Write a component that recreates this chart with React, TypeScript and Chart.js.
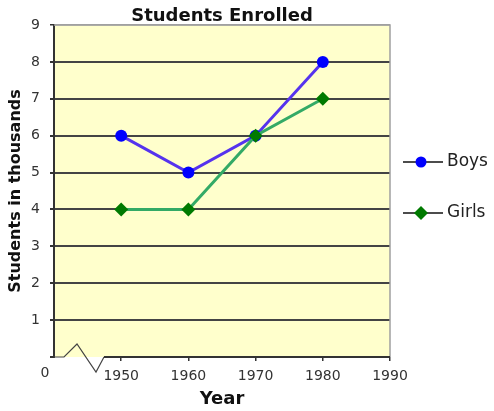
import React, { useEffect, useRef } from 'react';
import { Chart, registerables } from 'chart.js';

Chart.register(...registerables);

const years = [1950, 1960, 1970, 1980];
const boys = [6, 5, 6, 8];
const girls = [4, 4, 6, 7];
const xMin = 1940;
const xMax = 1990;
const yMin = 0;
const yMax = 9;
const originLabel = '0';
const titleText = 'Students Enrolled';
const xTitle = 'Year';
const yTitle = 'Students in thousands';

const FONT = "'DejaVu Sans', Verdana, sans-serif";
const PLOT_BG = '#FFFFCC';
const GRID = '#444444';
const AXIS = '#333333';

const bgPlugin = {
  id: 'plotBg',
  beforeDraw(chart: any) {
    const { ctx, chartArea: a } = chart;
    ctx.save();
    ctx.fillStyle = PLOT_BG;
    ctx.fillRect(a.left, a.top, a.right - a.left, a.bottom - a.top);
    ctx.restore();
  },
};

const framePlugin = {
  id: 'frame',
  afterDatasetsDraw(chart: any) {
    const { ctx, chartArea: a } = chart;
    ctx.save();
    ctx.strokeStyle = '#a0a0a0';
    ctx.lineWidth = 1.5;
    ctx.beginPath();
    ctx.moveTo(a.left, a.top);
    ctx.lineTo(a.right, a.top);
    ctx.lineTo(a.right, a.bottom);
    ctx.stroke();
    const b = a.bottom;
    const l = a.left;
    ctx.strokeStyle = '#444';
    ctx.lineWidth = 1.2;
    ctx.beginPath();
    ctx.moveTo(l, b);
    ctx.lineTo(l + 10, b);
    ctx.lineTo(l + 23, b - 13);
    ctx.lineTo(l + 42, b + 15);
    ctx.lineTo(l + 50, b);
    ctx.stroke();
    ctx.strokeStyle = AXIS;
    ctx.lineWidth = 2;
    ctx.beginPath();
    ctx.moveTo(l + 50, b);
    ctx.lineTo(a.right, b);
    ctx.stroke();
    ctx.fillStyle = '#333';
    ctx.font = `14px ${FONT}`;
    ctx.textAlign = 'center';
    ctx.textBaseline = 'middle';
    ctx.fillText(originLabel, l - 9, b + 16);
    ctx.restore();
  },
};

const legendPlugin = {
  id: 'sideLegend',
  afterDraw(chart: any) {
    const { ctx } = chart;
    const ys = [162, 213];
    ctx.save();
    chart.data.datasets.forEach((ds: any) => {
      const y = ys[ds.legendRow];
      ctx.strokeStyle = '#111';
      ctx.lineWidth = 1.5;
      ctx.beginPath();
      ctx.moveTo(403, y);
      ctx.lineTo(443, y);
      ctx.stroke();
      ctx.fillStyle = ds.pointBackgroundColor;
      ctx.beginPath();
      if (ds.pointStyle === 'rectRot') {
        const r = 7;
        ctx.moveTo(421, y - r);
        ctx.lineTo(421 + r, y);
        ctx.lineTo(421, y + r);
        ctx.lineTo(421 - r, y);
        ctx.closePath();
      } else {
        ctx.arc(421, y, 5.5, 0, Math.PI * 2);
      }
      ctx.fill();
      ctx.fillStyle = '#222';
      ctx.font = `17px ${FONT}`;
      ctx.textAlign = 'left';
      ctx.textBaseline = 'middle';
      ctx.fillText(ds.label, 447, y);
    });
    ctx.restore();
  },
};

export default function App() {
  const ref = useRef<HTMLCanvasElement | null>(null);

  useEffect(() => {
    document.body.style.margin = '0';
    const canvas = ref.current;
    if (!canvas) return;
    const chart = new Chart(canvas, {
      type: 'line',
      data: {
        datasets: [
          {
            label: 'Boys',
            legendRow: 0,
            data: years.map((x, i) => ({ x, y: boys[i] })),
            borderColor: '#5533ee',
            borderWidth: 3,
            pointStyle: 'circle',
            pointRadius: 6,
            pointBackgroundColor: '#0000ff',
            pointBorderWidth: 0,
            order: 1,
          } as any,
          {
            label: 'Girls',
            legendRow: 1,
            data: years.map((x, i) => ({ x, y: girls[i] })),
            borderColor: '#33aa66',
            borderWidth: 3,
            pointStyle: 'rectRot',
            pointRadius: 7,
            pointBackgroundColor: '#007a00',
            pointBorderWidth: 0,
            order: 0,
          } as any,
        ],
      },
      options: {
        animation: false,
        responsive: false,
        layout: { padding: { top: 0, right: 104, bottom: 0, left: 0 } },
        plugins: {
          legend: { display: false },
          tooltip: { enabled: false },
          title: {
            display: true,
            text: titleText,
            fullSize: false,
            color: '#111',
            font: { family: FONT, size: 18, weight: 'bold' },
            padding: { top: 5.4, bottom: -2 },
          },
        },
        scales: {
          x: {
            type: 'linear',
            min: xMin,
            max: xMax,
            afterFit(scale: any) {
              scale.height = 54;
            },
            border: { display: false },
            grid: {
              drawOnChartArea: false,
              drawTicks: true,
              tickLength: 4,
              tickColor: (c: any) => (c.tick && c.tick.value === xMin ? 'rgba(0,0,0,0)' : AXIS),
              lineWidth: 1.5,
            },
            ticks: {
              stepSize: 10,
              padding: 7,
              maxRotation: 0,
              color: '#333',
              font: { family: FONT, size: 14 },
              callback: (v: any) => (v === xMin ? '' : String(v)),
            },
            title: {
              display: true,
              text: xTitle,
              color: '#111',
              font: { family: FONT, size: 18, weight: 'bold' },
              padding: { top: 0, bottom: 1.2 },
            },
          },
          y: {
            type: 'linear',
            min: yMin,
            max: yMax,
            afterFit(scale: any) {
              scale.width = 54;
            },
            border: { display: true, color: AXIS, width: 2 },
            grid: {
              drawOnChartArea: true,
              drawTicks: true,
              tickLength: 4,
              color: (c: any) => {
                const v = c.tick ? c.tick.value : null;
                if (v === yMin) return 'rgba(0,0,0,0)';
                if (v === yMax) return '#a0a0a0';
                return GRID;
              },
              tickColor: AXIS,
              lineWidth: (c: any) => (c.tick && c.tick.value === yMax ? 1.5 : 2),
            },
            ticks: {
              stepSize: 1,
              padding: 10,
              color: '#333',
              font: { family: FONT, size: 14 },
              callback: (v: any) => (v === yMin ? '' : String(v)),
            },
            title: {
              display: true,
              text: yTitle,
              color: '#111',
              font: { family: FONT, size: 16, weight: 'bold' },
              padding: { top: 6.4, bottom: 0 },
            },
          },
        },
      } as any,
      plugins: [bgPlugin, framePlugin, legendPlugin],
    });
    return () => chart.destroy();
  }, []);

  return <canvas ref={ref} width={494} height={411} style={{ display: 'block' }} />;
}
